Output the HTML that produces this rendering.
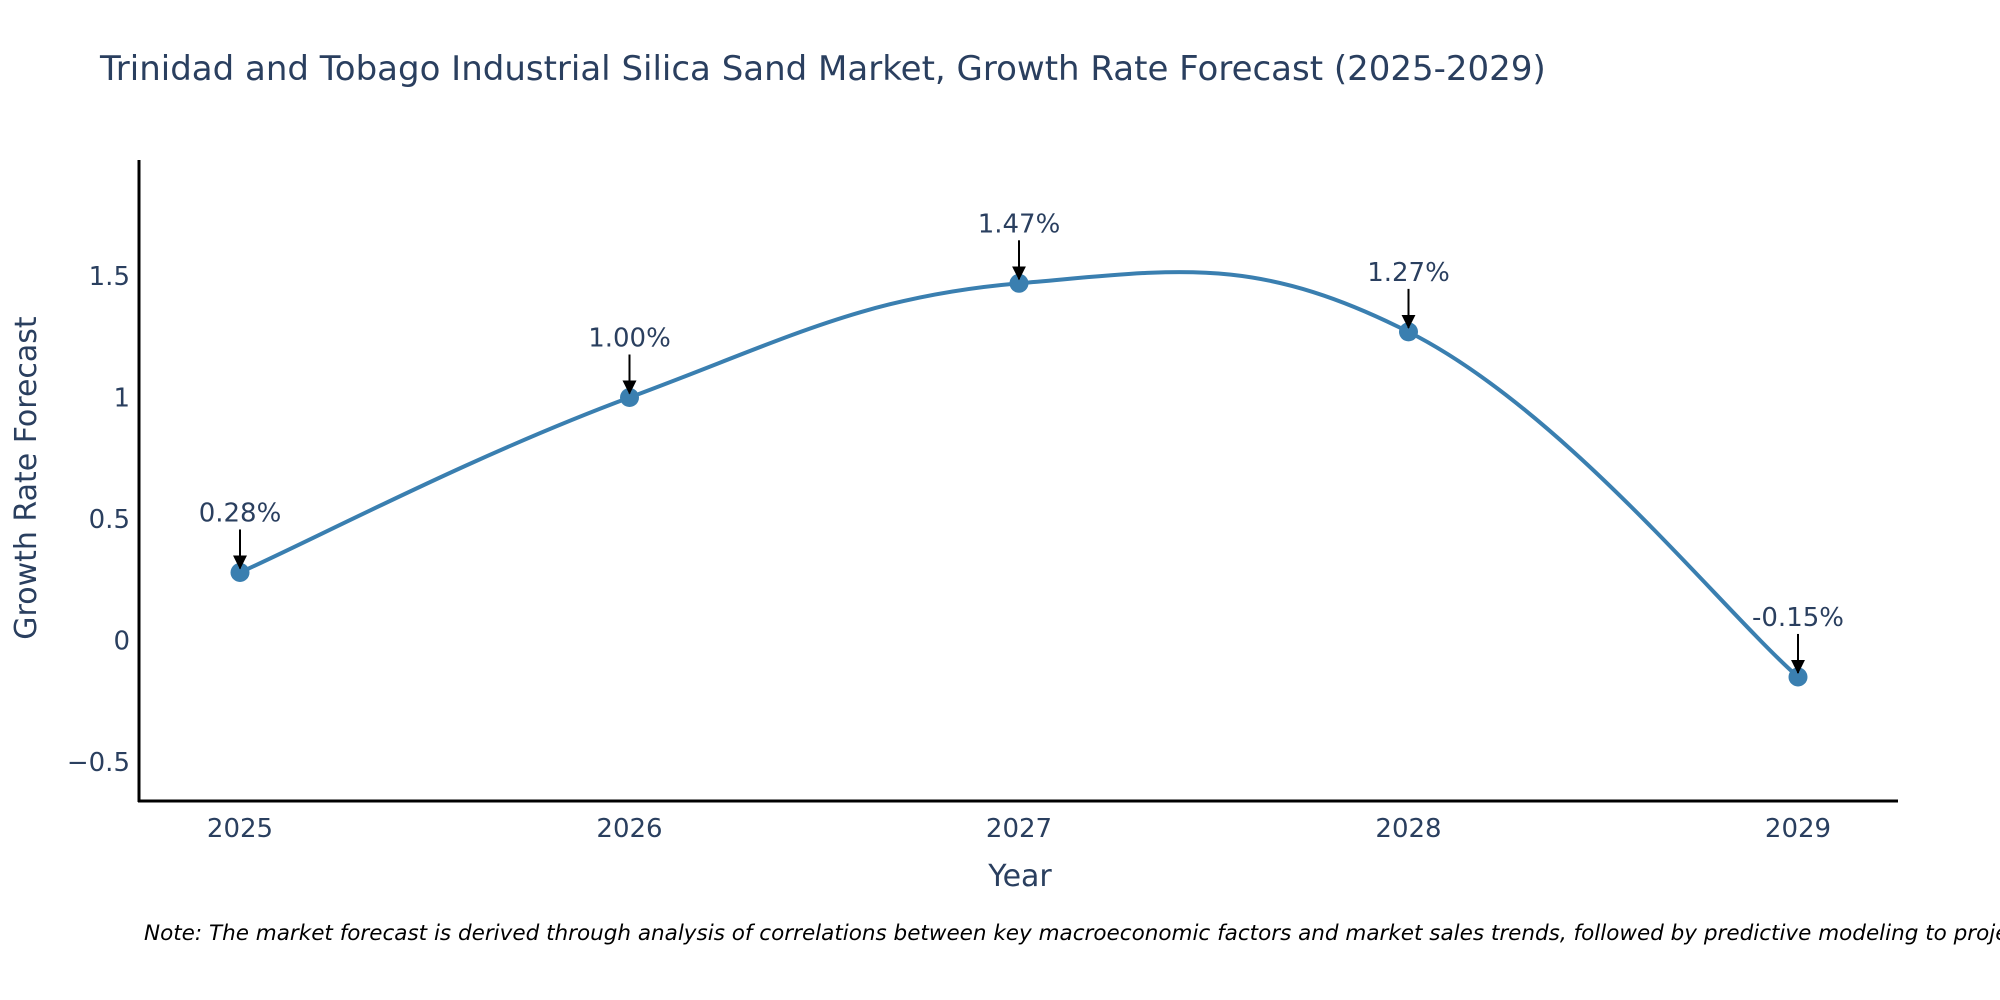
<!DOCTYPE html>
<html><head><meta charset="utf-8"><style>
html,body{margin:0;padding:0;background:#fff;width:2000px;height:1000px;overflow:hidden}
svg text{font-family:"DejaVu Sans","Liberation Sans",sans-serif;fill:#2a3f5f}
</style></head><body>
<svg id="chart" width="2000" height="1000" xmlns="http://www.w3.org/2000/svg">
<defs><marker id="ah" markerWidth="14" markerHeight="14" refX="13" refY="7" orient="auto" markerUnits="userSpaceOnUse"><path d="M0,0 L14,7 L0,14 Z" fill="#000"/></marker></defs>
<text x="100" y="80" font-size="34">Trinidad and Tobago Industrial Silica Sand Market, Growth Rate Forecast (2025-2029)</text>
<g id="yticks"></g>
<g id="xticks"></g>
<line x1="139" y1="160" x2="139" y2="802" stroke="#000" stroke-width="3"/>
<line x1="138" y1="801" x2="1898" y2="801" stroke="#000" stroke-width="3"/>
<path id="line" fill="none" stroke="#3a7fb0" stroke-width="4"/>
<g id="points"></g>
<g id="annots"></g>
<text transform="translate(36,478) rotate(-90)" text-anchor="middle" font-size="30">Growth Rate Forecast</text>
<text x="1020" y="886" text-anchor="middle" font-size="30">Year</text>
<text x="144" y="940" font-size="21.5" font-style="italic" style="fill:#000">Note: The market forecast is derived through analysis of correlations between key macroeconomic factors and market sales trends, followed by predictive modeling to project future sales.</text>
</svg>
<script>
const years=["2025","2026","2027","2028","2029"];
const growth=[0.28,1.00,1.47,1.27,-0.15];
const labels=["0.28%","1.00%","1.47%","1.27%","-0.15%"];
const yTickVals=[-0.5,0,0.5,1,1.5];
const yTickLabels=["\u22120.5","0","0.5","1","1.5"];
const NS="http://www.w3.org/2000/svg";
function xs(i){return 240+i*(1798-240)/(years.length-1);}
function ys(v){return 640.5-v*243;}
function mk(t,a,p){const e=document.createElementNS(NS,t);for(const k in a)e.setAttribute(k,a[k]);if(p)p.appendChild(e);return e;}
const yt=document.getElementById('yticks');
yTickVals.forEach((v,i)=>{const t=mk('text',{x:130,y:ys(v)+9,'text-anchor':'end','font-size':'26'},yt);


t.textContent=yTickLabels[i];});
const xt=document.getElementById('xticks');
years.forEach((y,i)=>{const t=mk('text',{x:xs(i),y:837,'text-anchor':'middle','font-size':'26'},xt);


t.textContent=y;});
const P=growth.map((v,i)=>[xs(i),ys(v)]);
let d='M'+P[0][0]+','+P[0][1];
const s=0.2;
for(let i=0;i<P.length-1;i++){const p0=P[Math.max(0,i-1)],p1=P[i],p2=P[i+1],p3=P[Math.min(P.length-1,i+2)];
const c1=[p1[0]+(p2[0]-p0[0])*s,p1[1]+(p2[1]-p0[1])*s],c2=[p2[0]-(p3[0]-p1[0])*s,p2[1]-(p3[1]-p1[1])*s];
d+=' C'+c1+' '+c2+' '+p2;}
document.getElementById('line').setAttribute('d',d);
const pg=document.getElementById('points'),ag=document.getElementById('annots');
P.forEach((p,i)=>{const c=mk('circle',{cx:p[0],cy:p[1],r:9.5,fill:'#3a7fb0'},pg);


const l=mk('line',{x1:p[0],y1:p[1]-43,x2:p[0],y2:p[1]-4,stroke:'#000','stroke-width':2,'marker-end':'url(#ah)'},ag);


const t=mk('text',{x:p[0],y:p[1]-51,'text-anchor':'middle','font-size':'26'},ag);


t.textContent=labels[i];});
</script>
</body></html>
